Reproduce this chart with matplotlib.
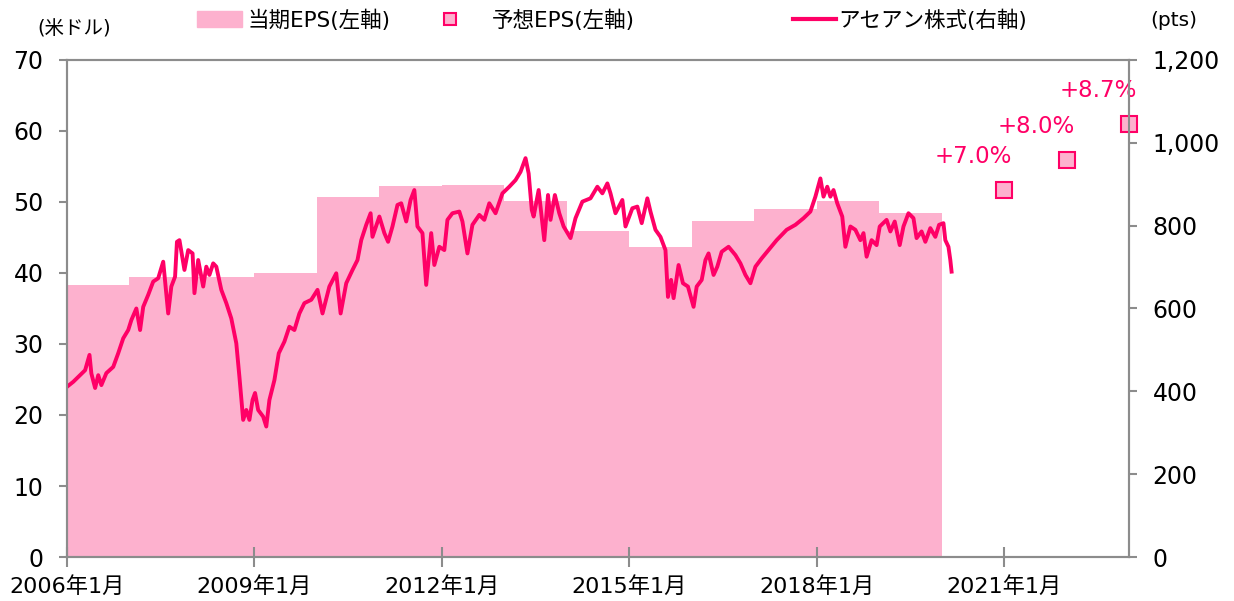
import numpy as np
import matplotlib.pyplot as plt
from matplotlib.patches import Patch
from matplotlib.lines import Line2D

plt.rcParams['font.family'] = ['DejaVu Sans', 'Noto Sans CJK JP']

# 当期EPS（年次, 米ドル）
eps_years = [2006, 2007, 2008, 2009, 2010, 2011, 2012, 2013, 2014, 2015, 2016, 2017, 2018, 2019]
eps_vals = [38.3, 39.4, 39.4, 40.0, 50.7, 52.3, 52.4, 50.1, 45.9, 43.7, 47.3, 49.0, 50.1, 48.4]

# 予想EPS
fc_years = [2021, 2022, 2023]
fc_vals = [51.7, 55.9, 61.0]
fc_labels = ['+7.0%', '+8.0%', '+8.7%']

# アセアン株式 (pts), x は年（小数）
idx_t = [2006.00, 2006.10, 2006.21, 2006.29, 2006.36, 2006.39, 2006.45, 2006.50, 2006.55, 2006.63,
         2006.74, 2006.82, 2006.90, 2006.98, 2007.03, 2007.11, 2007.17, 2007.22, 2007.30, 2007.38,
         2007.46, 2007.54, 2007.62, 2007.67, 2007.73, 2007.76, 2007.80, 2007.88, 2007.94, 2008.01,
         2008.04, 2008.10, 2008.18, 2008.23, 2008.28, 2008.34, 2008.39, 2008.47, 2008.55, 2008.63,
         2008.71, 2008.76, 2008.82, 2008.87, 2008.92, 2008.97, 2009.01, 2009.06, 2009.14, 2009.19,
         2009.24, 2009.32, 2009.39, 2009.48, 2009.56, 2009.64, 2009.72, 2009.80, 2009.91, 2010.01,
         2010.09, 2010.20, 2010.31, 2010.38, 2010.47, 2010.57, 2010.65, 2010.71, 2010.79, 2010.86,
         2010.89, 2011.00, 2011.08, 2011.14, 2011.21, 2011.29, 2011.35, 2011.43, 2011.50, 2011.56,
         2011.61, 2011.69, 2011.75, 2011.83, 2011.88, 2011.96, 2012.04, 2012.09, 2012.17, 2012.28,
         2012.33, 2012.41, 2012.49, 2012.60, 2012.68, 2012.76, 2012.86, 2012.97, 2013.08, 2013.18,
         2013.26, 2013.34, 2013.39, 2013.44, 2013.47, 2013.55, 2013.64, 2013.70, 2013.74, 2013.81,
         2013.88, 2013.95, 2014.06, 2014.14, 2014.25, 2014.38, 2014.49, 2014.57, 2014.65, 2014.70,
         2014.78, 2014.89, 2014.94, 2015.05, 2015.13, 2015.20, 2015.29, 2015.34, 2015.42, 2015.50,
         2015.58, 2015.62, 2015.67, 2015.71, 2015.79, 2015.86, 2015.94, 2016.03, 2016.08, 2016.16,
         2016.22, 2016.27, 2016.35, 2016.41, 2016.48, 2016.59, 2016.70, 2016.78, 2016.86, 2016.94,
         2017.02, 2017.12, 2017.23, 2017.36, 2017.52, 2017.66, 2017.79, 2017.90, 2017.98, 2018.06,
         2018.11, 2018.17, 2018.22, 2018.27, 2018.33, 2018.41, 2018.46, 2018.54, 2018.62, 2018.70,
         2018.75, 2018.80, 2018.88, 2018.96, 2019.01, 2019.12, 2019.18, 2019.25, 2019.33, 2019.39,
         2019.47, 2019.55, 2019.60, 2019.68, 2019.74, 2019.82, 2019.90, 2019.96, 2020.03, 2020.06,
         2020.11, 2020.14, 2020.16]
idx_v = [411, 423, 439, 451, 488, 443, 408, 439, 415, 444,
         459, 492, 528, 548, 572, 600, 548, 604, 633, 665,
         673, 713, 588, 653, 677, 761, 765, 693, 741, 733,
         637, 717, 653, 701, 681, 709, 701, 645, 613, 576,
         516, 435, 331, 355, 331, 379, 396, 355, 339, 315,
         379, 427, 492, 520, 556, 548, 588, 613, 621, 645,
         588, 653, 685, 588, 661, 693, 717, 765, 802, 830,
         773, 822, 782, 761, 798, 850, 854, 810, 862, 886,
         798, 782, 657, 782, 705, 749, 741, 814, 830, 834,
         810, 733, 802, 826, 814, 854, 830, 878, 894, 910,
         930, 963, 926, 838, 822, 886, 765, 874, 814, 874,
         830, 798, 770, 818, 858, 866, 894, 878, 902, 878,
         830, 862, 798, 842, 846, 806, 866, 834, 790, 773,
         741, 628, 669, 625, 705, 661, 653, 604, 653, 669,
         717, 733, 681, 701, 737, 749, 729, 709, 681, 661,
         701, 721, 741, 765, 790, 802, 818, 834, 870, 914,
         870, 894, 870, 886, 854, 822, 749, 798, 790, 765,
         782, 725, 765, 753, 798, 814, 786, 810, 753, 798,
         830, 818, 770, 786, 761, 794, 773, 802, 806, 765,
         749, 717, 689]

pink = '#FF0066'
area_c = '#FDB1CE'
grey = '#8C8C8C'

fig = plt.figure(figsize=(12.34, 6.01), dpi=100)
ax = fig.add_axes([0.0543, 0.0732, 0.8606, 0.827])
ax2 = ax.twinx()

ax.bar(eps_years, eps_vals, width=1.0, align='edge', color=area_c, linewidth=0, zorder=1)
ax.plot(fc_years, fc_vals, 's', ms=11, mfc=area_c, mec=pink, mew=1.5, zorder=5, clip_on=False)
for x, y, s in zip(fc_years, fc_vals, fc_labels):
    ax.annotate(s, (x, y), xytext=(-22, 24), textcoords='offset points', ha='center', va='center',
                color=pink, fontsize=16.5)

ax2.plot(idx_t, idx_v, color=pink, lw=2.8, solid_joinstyle='round')

ax.set_xlim(2006, 2023)
ax.set_ylim(0, 70)
ax2.set_ylim(0, 1200)
ax.set_yticks(np.arange(0, 71, 10))
ax2.set_yticks(np.arange(0, 1201, 200))
ax2.set_yticklabels([f'{v:,}' for v in range(0, 1201, 200)])
ax.set_xticks([2006, 2009, 2012, 2015, 2018, 2021])
ax.set_xticklabels(['2006年1月', '2009年1月', '2012年1月', '2015年1月', '2018年1月', '2021年1月'])

for a in (ax, ax2):
    for sp in a.spines.values():
        sp.set_color(grey)
        sp.set_linewidth(1.5)
ax.tick_params(axis='y', direction='out', length=6, width=1.5, color=grey, labelsize=17, pad=11)
ax2.tick_params(axis='y', direction='out', length=6, width=1.5, color=grey, labelsize=17, pad=11)
ax.tick_params(axis='x', direction='inout', length=14, width=1.5, color=grey, labelsize=16, pad=7)

fig.text(0.03, 0.952, '(米ドル)', fontsize=14, ha='left', va='center')
fig.text(0.932, 0.966, '(pts)', fontsize=14.5, ha='left', va='center')

# 凡例（3項目を個別に配置）
leg_kw = dict(loc='center left', frameon=False, fontsize=15.5, borderpad=0, borderaxespad=0)
fig.legend([Patch(color=area_c)], ['当期EPS(左軸)'], bbox_to_anchor=(197 / 1234, 0.967),
           handlelength=2.1, handletextpad=0.25, **leg_kw)
fig.legend([Line2D([], [], ls='none', marker='s', ms=9, mfc=area_c, mec=pink, mew=1.5)],
           ['予想EPS(左軸)'], bbox_to_anchor=(427 / 1234, 0.967),
           handlelength=2.1, handletextpad=0.9, **leg_kw)
fig.legend([Line2D([], [], color=pink, lw=3)], ['アセアン株式(右軸)'],
           bbox_to_anchor=(793 / 1234, 0.967), handlelength=2.0, handletextpad=0.1, **leg_kw)

fig.savefig('out.png', dpi=100)
